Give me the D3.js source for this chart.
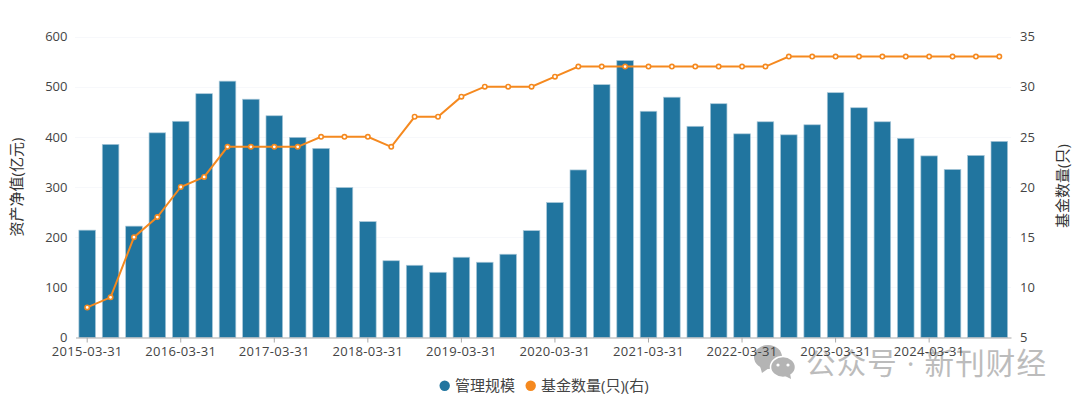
<!DOCTYPE html>
<html><head><meta charset="utf-8">
<script src="https://cdn.jsdelivr.net/npm/d3@7/dist/d3.min.js"></script>
<style>
html,body{margin:0;padding:0;background:#fff}
svg{display:block}
text{font-family:"Open Sans","Noto Sans CJK SC",sans-serif}
</style></head><body><svg id="c" width="1080" height="405"></svg>
<script>
const dates=["2015-03-31","2015-06-30","2015-09-30","2015-12-31","2016-03-31","2016-06-30","2016-09-30","2016-12-31","2017-03-31","2017-06-30","2017-09-30","2017-12-31","2018-03-31","2018-06-30","2018-09-30","2018-12-31","2019-03-31","2019-06-30","2019-09-30","2019-12-31","2020-03-31","2020-06-30","2020-09-30","2020-12-31","2021-03-31","2021-06-30","2021-09-30","2021-12-31","2022-03-31","2022-06-30","2022-09-30","2022-12-31","2023-03-31","2023-06-30","2023-09-30","2023-12-31","2024-03-31","2024-06-30","2024-09-30","2024-12-31"];
const scale=[214,385,222,408,431,486,511,475,442,399,377,299,231,153,144,130,160,150,166,213,269,334,504,552,451,479,421,466,406,430,404,424,488,458,430,397,362,335,363,391];
const funds=[8,9,15,17,20,21,24,24,24,24,25,25,25,24,27,27,29,30,30,30,31,32,32,32,32,32,32,32,32,32,33,33,33,33,33,33,33,33,33,33];
const leftTicks=[0,100,200,300,400,500,600];
const rightTicks=[5,10,15,20,25,30,35];
const svg=d3.select("#c");
const x=d3.scaleBand().domain(dates).range([75.5,1011]).paddingInner(0.29).paddingOuter(0.145);
const y=d3.scaleLinear().domain([0,600]).range([337.5,36.5]);
const y2=d3.scaleLinear().domain([5,35]).range([337.5,36.5]);
const cx=d=>x(d)+x.bandwidth()/2;
const textCol="#444";
// grid
svg.append("g").selectAll("line").data(leftTicks.slice(1)).join("line")
 .attr("x1",75.5).attr("x2",1011).attr("y1",d=>Math.round(y(d))+.5).attr("y2",d=>Math.round(y(d))+.5)
 .attr("stroke","#eef1f7").attr("stroke-width",1).attr("stroke-dasharray","1 1");
// watermark (under the labels)
const wm=svg.append("g");
wm.append("ellipse").attr("cx",768).attr("cy",357).attr("rx",14).attr("ry",12).attr("fill","#b4b4b4");
wm.append("path").attr("d","M760 366 L762 373 L769 368 Z").attr("fill","#b4b4b4");
wm.append("ellipse").attr("cx",783).attr("cy",367).attr("rx",12.5).attr("ry",10.5).attr("fill","#b4b4b4").attr("stroke","#fff").attr("stroke-width",1.5);
wm.append("path").attr("d","M785 376 L791 379 L790 373 Z").attr("fill","#b4b4b4");
wm.selectAll("circle").data([[778,365],[788,365]]).join("circle").attr("cx",d=>d[0]).attr("cy",d=>d[1]).attr("r",1.6).attr("fill","#fff");
wm.append("text").attr("x",806).attr("y",374).attr("fill","#bcbcbc").attr("font-size",29.5).attr("xml:space","preserve").attr("textLength",240).text("公众号 · 新刊财经");
// bars
svg.append("g").selectAll("rect").data(scale).join("rect")
 .attr("x",(d,i)=>x(dates[i])).attr("width",x.bandwidth())
 .attr("y",d=>y(d)).attr("height",d=>y(0)-y(d))
 .attr("fill","#21759f").attr("stroke","#a9c8d9").attr("stroke-width",.7);
// axes
const ax=d3.axisBottom(x).tickValues(dates.filter((d,i)=>i%4===0)).tickSize(5).tickSizeOuter(0).tickPadding(4);
const gx=svg.append("g").attr("transform","translate(0,337.5)").call(ax);
gx.select(".domain").attr("stroke","#aaa").attr("stroke-width",1.2);
gx.selectAll(".tick line").attr("stroke","#aaa");
gx.selectAll("text").attr("fill",textCol).attr("font-size",13).attr("letter-spacing",.3);
const gl=svg.append("g").attr("transform","translate(75.5,0)").call(d3.axisLeft(y).tickValues(leftTicks).tickSize(0).tickPadding(8));
gl.select(".domain").remove();
gl.selectAll("text").attr("fill",textCol).attr("font-size",13);
const gr=svg.append("g").attr("transform","translate(1011,0)").call(d3.axisRight(y2).tickValues(rightTicks).tickSize(0).tickPadding(9));
gr.select(".domain").remove();
gr.selectAll("text").attr("fill",textCol).attr("font-size",13);
// axis titles
svg.append("text").attr("transform","translate(16,187) rotate(-90)").attr("text-anchor","middle").attr("dominant-baseline","central").attr("fill","#333").attr("font-size",15).text("资产净值(亿元)");
svg.append("text").attr("transform","translate(1062,186) rotate(-90)").attr("text-anchor","middle").attr("dominant-baseline","central").attr("fill","#333").attr("font-size",15).text("基金数量(只)");
// line
const line=d3.line().x((d,i)=>cx(dates[i])).y(d=>y2(d));
svg.append("path").attr("d",line(funds)).attr("fill","none").attr("stroke","#f5891f").attr("stroke-width",2);
svg.append("g").selectAll("circle").data(funds).join("circle")
 .attr("cx",(d,i)=>cx(dates[i])).attr("cy",d=>y2(d)).attr("r",2.2)
 .attr("fill","#fff").attr("stroke","#f5891f").attr("stroke-width",1.6);
// legend
const lg=svg.append("g");
lg.append("circle").attr("cx",444.7).attr("cy",385.7).attr("r",5.2).attr("fill","#21759f");
lg.append("text").attr("x",455).attr("y",387).attr("dominant-baseline","middle").attr("fill","#444").attr("font-size",15).text("管理规模");
lg.append("circle").attr("cx",530.7).attr("cy",385.7).attr("r",5.2).attr("fill","#f5891f");
lg.append("text").attr("x",541).attr("y",387).attr("dominant-baseline","middle").attr("fill","#444").attr("font-size",15).text("基金数量(只)(右)");
</script></body></html>
